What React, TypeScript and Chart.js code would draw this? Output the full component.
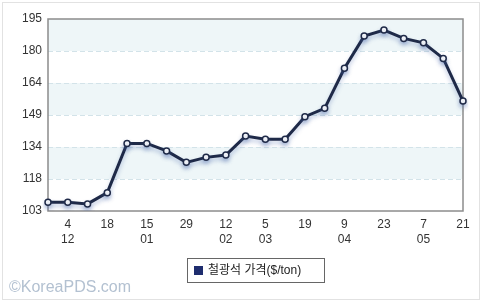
import React, { useEffect, useRef } from "react";
import { Chart, registerables } from "chart.js";

Chart.register(...registerables);

const dayLabels = ["", "4", "", "18", "", "15", "", "29", "", "12", "", "5", "", "19", "", "9", "", "23", "", "7", "", "21"];
const monthLabels = ["", "12", "", "", "", "01", "", "", "", "02", "", "03", "", "", "", "04", "", "", "", "05", "", ""];
const prices = [107.2, 107.2, 106.4, 111.8, 135.4, 135.4, 131.8, 126.3, 128.7, 129.8, 138.9, 137.4, 137.4, 148.2, 152.2, 171.4, 186.8, 189.7, 185.7, 183.6, 176.1, 155.7];
const yTickLabels = ["103", "118", "134", "149", "164", "180", "195"];
const yMin = 103;
const yMax = 195;
const seriesName = "철광석 가격($/ton)";
const watermark = "©KoreaPDS.com";

const FONT = "'Liberation Sans', Arial, 'Noto Sans CJK KR', sans-serif";

const decor = {
  id: "decor",
  beforeDraw(chart: any) {
    const { ctx, width, height, chartArea: a, scales } = chart;
    ctx.save();
    ctx.fillStyle = "#ffffff";
    ctx.fillRect(0, 0, width, height);
    ctx.strokeStyle = "#e2e2e2";
    ctx.lineWidth = 1;
    ctx.strokeRect(2.5, 2.5, width - 5, height - 5);
    const ys = scales.y;
    const vals = ys.ticks.map((t: any) => t.value);
    // bands: top band light blue, alternating
    for (let i = vals.length - 1; i > 0; i--) {
      const top = ys.getPixelForValue(vals[i]);
      const bot = ys.getPixelForValue(vals[i - 1]);
      const fromTop = vals.length - 1 - i;
      ctx.fillStyle = fromTop % 2 === 0 ? "#eef6f8" : "#ffffff";
      ctx.fillRect(a.left, top, a.right - a.left, bot - top);
    }
    // dashed grid lines
    ctx.strokeStyle = "#d3e3e9";
    ctx.setLineDash([5, 3]);
    for (let i = 1; i < vals.length - 1; i++) {
      const y = Math.round(ys.getPixelForValue(vals[i])) + 0.5;
      ctx.beginPath();
      ctx.moveTo(a.left, y);
      ctx.lineTo(a.right, y);
      ctx.stroke();
    }
    ctx.setLineDash([]);
    ctx.strokeStyle = "#8c8c8c";
    ctx.lineWidth = 1.5;
    ctx.strokeRect(a.left, a.top, a.right - a.left, a.bottom - a.top);
    ctx.restore();
  },
  beforeDatasetDraw(chart: any) {
    const ctx = chart.ctx;
    ctx.save();
    ctx.shadowColor = "rgba(70,100,170,0.35)";
    ctx.shadowBlur = 4;
    ctx.shadowOffsetY = 3;
  },
  afterDatasetDraw(chart: any) {
    chart.ctx.restore();
  },
  afterDraw(chart: any) {
    const ctx = chart.ctx;
    ctx.save();
    // legend box
    ctx.strokeStyle = "#666666";
    ctx.lineWidth = 1;
    ctx.strokeRect(187.5, 258.5, 137, 24);
    ctx.fillStyle = "#1e2d6e";
    ctx.fillRect(194, 266, 9, 9);
    ctx.fillStyle = "#222222";
    ctx.font = "12px " + FONT;
    ctx.textBaseline = "middle";
    ctx.textAlign = "left";
    ctx.fillText(chart.data.datasets[0].label, 208, 271);
    // watermark
    ctx.fillStyle = "#b3c1d1";
    ctx.font = "16px " + FONT;
    ctx.textBaseline = "alphabetic";
    ctx.fillText(watermark, 9, 292);
    ctx.restore();
  },
};

export default function App() {
  const ref = useRef<HTMLCanvasElement>(null);
  useEffect(() => {
    document.body.style.margin = "0";
    const labels = dayLabels.map((d, i) => [d, monthLabels[i]]);
    const chart = new Chart(ref.current as HTMLCanvasElement, {
      type: "line",
      data: {
        labels,
        datasets: [
          {
            label: seriesName,
            data: prices,
            borderColor: "#1f2a48",
            borderWidth: 3,
            pointRadius: 3,
            pointBackgroundColor: "#ffffff",
            pointBorderColor: "#1f2a48",
            pointBorderWidth: 1.5,
            tension: 0,
          },
        ],
      },
      options: {
        responsive: false,
        animation: false,
        layout: { padding: { top: 19, right: 19, left: 0, bottom: 0 } },
        plugins: { legend: { display: false }, tooltip: { enabled: false } },
        scales: {
          x: {
            type: "category",
            grid: { display: false, drawTicks: false },
            border: { display: false },
            ticks: {
              autoSkip: false,
              maxRotation: 0,
              padding: 6,
              color: "#333333",
              font: { size: 12, family: FONT, lineHeight: 1.25 },
            },
            afterFit: (s: any) => {
              s.height = 91;
            },
          },
          y: {
            min: yMin,
            max: yMax,
            grid: { display: false, drawTicks: false },
            border: { display: false },
            afterBuildTicks: (s: any) => {
              s.ticks = yTickLabels.map((_, i) => ({ value: yMin + (i * (yMax - yMin)) / (yTickLabels.length - 1) }));
            },
            ticks: {
              padding: 6,
              color: "#333333",
              font: { size: 12, family: FONT },
              callback: (_v: any, i: number) => yTickLabels[i],
            },
            afterFit: (s: any) => {
              s.width = 48;
            },
          },
        },
      },
      plugins: [decor],
    });
    return () => chart.destroy();
  }, []);
  return <canvas ref={ref} width={482} height={302} style={{ display: "block" }} />;
}
